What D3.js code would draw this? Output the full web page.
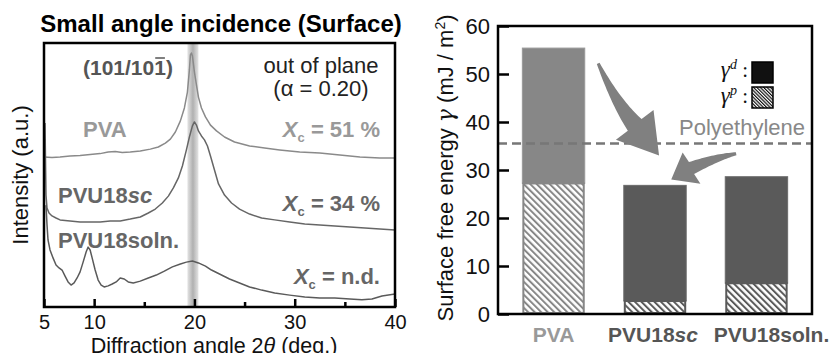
<!DOCTYPE html>
<html>
<head>
<meta charset="utf-8">
<script src="https://cdn.jsdelivr.net/npm/d3@7"></script>
<style>
	body { margin: 0; background: #fff; }
	svg { display: block; font-family: "Liberation Sans", Arial, sans-serif; }
</style>
</head>
<body>
<svg id="chart" width="838" height="353"></svg>
<script>
// ---- left panel: XRD scans, [2theta (deg), intensity (a.u.)]
const pvaScan = [[5.0,56.8],[5.8,56.6],[6.6,56.8],[7.6,57.2],[8.6,57.4],[9.6,57.8],[10.6,58.1],[11.4,58.7],[12.1,58.9],[12.8,58.5],[13.6,58.7],[14.6,59.1],[15.6,59.8],[16.4,60.6],[17.1,62.1],[17.6,63.6],[18.1,66.3],[18.6,70.5],[19.0,75.4],[19.3,81.4],[19.5,89.8],[19.6,95.5],[19.7,96.2],[19.8,95.1],[20.0,89.0],[20.2,84.1],[20.4,79.5],[20.7,75.4],[21.1,72.0],[21.6,68.9],[22.2,66.7],[23.0,64.4],[24.0,62.5],[25.5,61.0],[27.0,60.2],[28.5,59.5],[30.5,58.7],[32.5,58.3],[34.5,57.6],[36.5,56.8],[38.5,56.4],[40.0,56.4]];
const scScan = [[5.1,69.7],[5.15,55.7],[5.2,42.4],[5.3,37.5],[5.5,35.6],[5.8,34.5],[6.2,33.7],[6.6,33.0],[7.6,32.6],[8.6,32.2],[9.6,32.2],[10.6,32.2],[11.6,32.6],[12.6,32.6],[13.6,33.3],[14.6,34.1],[15.4,35.6],[16.1,37.1],[16.8,39.4],[17.4,42.0],[17.9,45.1],[18.4,48.9],[18.8,53.4],[19.2,59.5],[19.5,64.4],[19.8,68.6],[20.0,70.1],[20.2,68.9],[20.4,66.7],[20.7,64.8],[21.0,63.3],[21.3,61.0],[21.6,57.2],[22.0,51.9],[22.4,46.6],[23.0,42.4],[23.7,39.4],[24.5,37.1],[25.5,35.2],[26.7,33.7],[28.0,33.0],[29.5,32.2],[31.0,31.4],[32.5,31.1],[34.0,30.7],[35.5,30.3],[37.0,29.9],[38.5,29.5],[40.0,29.2]];
const solnScan = [[5.2,38.6],[5.3,31.1],[5.4,25.4],[5.6,21.6],[5.9,18.6],[6.2,15.9],[6.5,14.8],[6.8,14.0],[7.1,11.7],[7.4,9.5],[7.7,8.3],[8.0,9.1],[8.3,11.0],[8.6,13.3],[8.9,17.0],[9.2,20.8],[9.4,22.7],[9.6,21.6],[9.8,18.6],[10.1,14.0],[10.4,10.2],[10.7,8.3],[11.0,7.6],[11.4,8.0],[11.8,8.7],[12.2,9.5],[12.6,11.0],[13.0,10.6],[13.4,9.5],[13.9,9.1],[14.6,9.8],[15.4,11.0],[16.2,12.1],[17.0,13.6],[17.8,15.2],[18.6,16.3],[19.2,17.0],[19.8,17.4],[20.4,16.7],[21.1,15.5],[21.7,14.0],[22.5,12.5],[23.5,10.6],[24.5,9.1],[25.5,7.6],[26.7,6.4],[28.0,5.3],[29.5,4.5],[31.0,3.8],[32.5,3.4],[34.0,3.4],[35.5,3.0],[36.7,2.7],[37.7,3.0],[38.7,4.2],[40.0,4.9]];
const scanNames = [['PVA', ''], ['PVU18', 'sc'], ['PVU18soln.', '']];
const crystallinity = ['51 %', '34 %', 'n.d.'];
const xMajorTicks = [5, 10, 20, 30, 40];
const xMinorTicks = [15, 25, 35];
const peakBand = [19.3, 20.4];

// ---- right panel: surface free energy (mJ / m2)
const samples = ['PVA', 'PVU18sc', 'PVU18soln.'];
const sampleLabels = [['PVA', ''], ['PVU18', 'sc'], ['PVU18soln.', '']];
const gammaD = [28.2, 24.1, 22.2];
const gammaP = [27.2, 2.7, 6.4];
const polyethyleneGamma = 35.5;
const yTicks = [0, 10, 20, 30, 40, 50, 60];

const svg = d3.select('#chart');
const defs = svg.append('defs');
const lineColors = ['#8a8a8a', '#666', '#5a5a5a'];
const labelColors = ['#999', '#666', '#666'];

// ================= left panel =================
const L = { left: 44, right: 395, top: 43, bottom: 307 };
const x = d3.scaleLinear().domain([5, 40]).range([L.left, L.right]);
const y = d3.scaleLinear().domain([0, 100]).range([L.bottom, L.top]);

const grad = defs.append('linearGradient').attr('id', 'band').attr('x1', 0).attr('x2', 1).attr('y1', 0).attr('y2', 0);
grad.append('stop').attr('offset', 0).attr('stop-color', '#e4e4e4');
grad.append('stop').attr('offset', 0.5).attr('stop-color', '#b0b0b0');
grad.append('stop').attr('offset', 1).attr('stop-color', '#e4e4e4');

defs.append('clipPath').attr('id', 'clipL').append('rect')
	.attr('x', L.left).attr('y', L.top).attr('width', L.right - L.left).attr('height', L.bottom - L.top);

svg.append('rect')
	.attr('x', x(peakBand[0])).attr('width', x(peakBand[1]) - x(peakBand[0]))
	.attr('y', L.top).attr('height', L.bottom - L.top)
	.attr('fill', 'url(#band)');

const line = d3.line().x((d) => x(d[0])).y((d) => y(d[1]));
svg.append('g').attr('clip-path', 'url(#clipL)')
	.selectAll('path')
	.data([pvaScan, scScan, solnScan])
	.enter()
	.append('path')
	.attr('d', line)
	.attr('fill', 'none')
	.attr('stroke', (d, i) => lineColors[i])
	.attr('stroke-width', 1.5)
	.attr('stroke-linejoin', 'round');

const axisL = svg.append('g').attr('transform', `translate(0,${L.bottom})`)
	.call(d3.axisBottom(x).tickValues(xMajorTicks).tickSizeInner(-8).tickSizeOuter(0).tickPadding(8));
axisL.select('.domain').remove();
axisL.selectAll('line').attr('stroke-width', 2.5);
axisL.selectAll('text').attr('font-size', 20).attr('fill', '#111').style('font-family', 'inherit');

const axisLm = svg.append('g').attr('transform', `translate(0,${L.bottom})`)
	.call(d3.axisBottom(x).tickValues(xMinorTicks).tickSizeInner(-5).tickSizeOuter(0).tickFormat(''));
axisLm.select('.domain').remove();
axisLm.selectAll('line').attr('stroke-width', 2.5);

svg.append('rect')
	.attr('x', L.left).attr('y', L.top).attr('width', L.right - L.left).attr('height', L.bottom - L.top)
	.attr('fill', 'none').attr('stroke', '#000').attr('stroke-width', 2.5);

svg.append('text').attr('x', 221).attr('y', 32).attr('text-anchor', 'middle')
	.attr('font-size', 24).attr('font-weight', 'bold').text('Small angle incidence (Surface)');

const xTitle = svg.append('text').attr('x', 214).attr('y', 352.5).attr('text-anchor', 'middle').attr('font-size', 21.5).attr('fill', '#111');
xTitle.append('tspan').text('Diffraction angle 2');
xTitle.append('tspan').attr('font-style', 'italic').text('θ');
xTitle.append('tspan').text(' (deg.)');

svg.append('text').attr('transform', 'translate(28,175) rotate(-90)').attr('text-anchor', 'middle')
	.attr('font-size', 22).attr('fill', '#111').text('Intensity (a.u.)');

// peak index with bar over the last 1
const hkl = svg.append('text').attr('x', 83).attr('y', 75).attr('font-size', 21).attr('font-weight', 'bold').attr('fill', '#555').text('(101/101)');
const c0 = hkl.node().getStartPositionOfChar(7);
const c1 = hkl.node().getEndPositionOfChar(7);
svg.append('line').attr('x1', c0.x + 1).attr('x2', c1.x - 1).attr('y1', 58).attr('y2', 58).attr('stroke', '#555').attr('stroke-width', 1.5);

svg.append('text').attr('x', 321).attr('y', 73).attr('text-anchor', 'middle').attr('font-size', 22).attr('fill', '#222').text('out of plane');
svg.append('text').attr('x', 321).attr('y', 96).attr('text-anchor', 'middle').attr('font-size', 22).attr('fill', '#222').text('(α = 0.20)');

const nameY = [137, 203, 248];
const xcY = [137, 211, 284];
scanNames.forEach((n, i) => {
	const t = svg.append('text').attr('x', i === 0 ? 83 : 58).attr('y', nameY[i])
		.attr('font-size', 22).attr('font-weight', 'bold').attr('fill', labelColors[i]);
	t.append('tspan').text(n[0]);
	if (n[1]) t.append('tspan').attr('font-style', 'italic').text(n[1]);

	const xc = svg.append('text').attr('x', 380).attr('y', xcY[i]).attr('text-anchor', 'end')
		.attr('font-size', 22).attr('font-weight', 'bold').attr('fill', labelColors[i]);
	xc.append('tspan').attr('font-style', 'italic').text('X');
	xc.append('tspan').attr('font-size', 13).attr('dy', 5).text('c');
	xc.append('tspan').attr('dy', -5).text(' = ' + crystallinity[i]);
});

// ================= right panel =================
const R = { left: 498, right: 812, top: 26, bottom: 314 };
const xb = d3.scaleBand().domain(samples).range([R.left, R.right]).paddingInner(0.385).paddingOuter(0.24);
const yb = d3.scaleLinear().domain([0, 60]).range([R.bottom, R.top]);
const barColors = ['#878787', '#5a5a5a', '#5a5a5a'];

const makeHatch = (id, color, size, width) => {
	const p = defs.append('pattern').attr('id', id).attr('patternUnits', 'userSpaceOnUse')
		.attr('width', size).attr('height', size).attr('patternTransform', 'rotate(-45)');
	p.append('rect').attr('width', size).attr('height', size).attr('fill', '#fff');
	p.append('rect').attr('width', width).attr('height', size).attr('fill', color);
};
barColors.forEach((c, i) => makeHatch('hatch' + i, c, 4.6, 2));
makeHatch('hatchLegend', '#111', 2.4, 1.2);

const bars = svg.append('g').selectAll('g').data(samples).enter().append('g');
bars.append('rect')
	.attr('x', (d) => xb(d)).attr('width', xb.bandwidth())
	.attr('y', (d, i) => yb(gammaP[i] + gammaD[i])).attr('height', (d, i) => yb(gammaP[i]) - yb(gammaP[i] + gammaD[i]))
	.attr('fill', (d, i) => barColors[i]).attr('stroke', (d, i) => i === 0 ? '#999' : '#6a6a6a').attr('stroke-width', 1);
bars.append('rect')
	.attr('x', (d) => xb(d) + 1).attr('width', xb.bandwidth() - 2)
	.attr('y', (d, i) => yb(gammaP[i])).attr('height', (d, i) => yb(0) - yb(gammaP[i]) - 1)
	.attr('fill', (d, i) => `url(#hatch${i})`).attr('stroke', (d, i) => barColors[i]).attr('stroke-width', 2);

// polyethylene reference
svg.append('line').attr('x1', R.left).attr('x2', R.right).attr('y1', yb(polyethyleneGamma)).attr('y2', yb(polyethyleneGamma))
	.attr('stroke', '#777').attr('stroke-width', 2.5).attr('stroke-dasharray', '9,5');
svg.append('text').attr('x', 805).attr('y', yb(polyethyleneGamma) - 9).attr('text-anchor', 'end')
	.attr('font-size', 22).attr('fill', '#888').text('Polyethylene');

// curved arrows, anchored in (bar index, value) units
const xi = d3.scaleLinear().domain([0, 2]).range([xb(samples[0]) + xb.bandwidth() / 2, xb(samples[2]) + xb.bandwidth() / 2]);
const arrows = [
	{ p0: [0.44, 52.2], p1: [0.62, 43.9], p2: [0.80, 39.4], tip: [1.04, 33.0], w0: 3, w1: 18, head: 48 },
	{ p0: [1.80, 33.4], p1: [1.60, 32.6], p2: [1.36, 30.4], tip: [1.16, 28.0], w0: 3, w1: 13, head: 36 }
];
const toPx = (p) => [xi(p[0]), yb(p[1])];
arrows.forEach((a) => {
	const p0 = toPx(a.p0), p1 = toPx(a.p1), p2 = toPx(a.p2), tip = toPx(a.tip);
	const left = [], right = [];
	for (let k = 0; k <= 24; k++) {
		const t = k / 24, u = 1 - t;
		const px = u * u * p0[0] + 2 * u * t * p1[0] + t * t * p2[0];
		const py = u * u * p0[1] + 2 * u * t * p1[1] + t * t * p2[1];
		let dx = 2 * u * (p1[0] - p0[0]) + 2 * t * (p2[0] - p1[0]);
		let dy = 2 * u * (p1[1] - p0[1]) + 2 * t * (p2[1] - p1[1]);
		const len = Math.hypot(dx, dy);
		dx /= len; dy /= len;
		const w = (a.w0 + (a.w1 - a.w0) * t) / 2;
		left.push([px - dy * w, py + dx * w]);
		right.push([px + dy * w, py - dx * w]);
	}
	let ex = tip[0] - p2[0], ey = tip[1] - p2[1];
	const el = Math.hypot(ex, ey);
	ex /= el; ey /= el;
	const h = a.head / 2;
	const pts = left.concat([[p2[0] - ey * h, p2[1] + ex * h], tip, [p2[0] + ey * h, p2[1] - ex * h]], right.reverse());
	svg.append('path').attr('d', 'M' + pts.map((p) => p.join(',')).join('L') + 'Z').attr('fill', '#808080');
});

const axisR = svg.append('g').attr('transform', `translate(${R.left},0)`)
	.call(d3.axisLeft(yb).tickValues(yTicks).tickSizeInner(-11).tickSizeOuter(0).tickPadding(8));
axisR.select('.domain').remove();
axisR.selectAll('line').attr('stroke-width', 2.5);
axisR.selectAll('text').attr('font-size', 22).attr('fill', '#111').style('font-family', 'inherit');

svg.append('rect')
	.attr('x', R.left).attr('y', R.top).attr('width', R.right - R.left).attr('height', R.bottom - R.top)
	.attr('fill', 'none').attr('stroke', '#000').attr('stroke-width', 2.5);

const yTitle = svg.append('text').attr('transform', 'translate(453,168) rotate(-90)').attr('text-anchor', 'middle')
	.attr('font-size', 22).attr('fill', '#111');
yTitle.append('tspan').text('Surface free energy ');
yTitle.append('tspan').attr('font-family', '"DejaVu Serif", serif').attr('font-style', 'italic').text('γ');
yTitle.append('tspan').text(' (mJ / m');
yTitle.append('tspan').attr('font-size', 14).attr('dy', -8).text('2');
yTitle.append('tspan').attr('dy', 8).text(')');

// category labels; the long last one sits a little right of its bar, as in the figure
const labelNudge = [0, -2, 15];
sampleLabels.forEach((n, i) => {
	const t = svg.append('text').attr('x', xb(samples[i]) + xb.bandwidth() / 2 + labelNudge[i]).attr('y', 342).attr('text-anchor', 'middle')
		.attr('font-size', 21).attr('font-weight', 'bold').attr('fill', i === 0 ? '#999' : '#555');
	t.append('tspan').text(n[0]);
	if (n[1]) t.append('tspan').attr('font-style', 'italic').text(n[1]);
});

// legend
const legendKeys = [['d', '#111'], ['p', 'url(#hatchLegend)']];
legendKeys.forEach((k, i) => {
	const ty = 77 + i * 26;
	const t = svg.append('text').attr('x', 748).attr('y', ty).attr('text-anchor', 'end')
		.attr('font-family', '"Liberation Serif", "DejaVu Serif", serif').attr('font-size', 21).attr('fill', '#111');
	t.append('tspan').attr('font-style', 'italic').attr('font-size', 23).text('γ');
	t.append('tspan').attr('font-style', 'italic').attr('font-size', 14).attr('dy', -8).text(k[0]);
	t.append('tspan').attr('dy', 8).text(' :');
	svg.append('rect').attr('x', 752).attr('y', 62 + i * 25).attr('width', 21).attr('height', 21)
		.attr('fill', k[1]).attr('stroke', '#000').attr('stroke-width', 1.5);
});
</script>
</body>
</html>
